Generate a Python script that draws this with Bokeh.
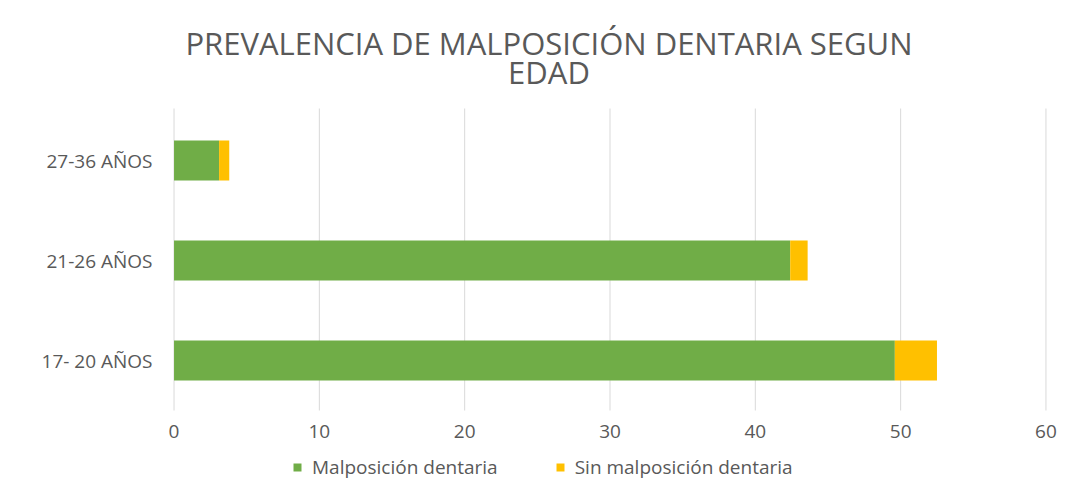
from bokeh.plotting import figure
from bokeh.models import (Range1d, FixedTicker, Legend, LegendItem,
                          ColumnDataSource, Label)
from bokeh.core.properties import value
from bokeh.embed import file_html
from bokeh.resources import INLINE

# ---- data ----
categories = ["17- 20 AÑOS", "21-26 AÑOS", "27-36 AÑOS"]
malposicion = [49.6, 42.4, 3.1]
sin_malposicion = [2.9, 1.2, 0.7]
x_ticks = [0, 10, 20, 30, 40, 50, 60]
series_names = ["Malposición dentaria", "Sin malposición dentaria"]
title_lines = ["PREVALENCIA DE MALPOSICIÓN DENTARIA SEGUN", "EDAD"]

GREEN = "#70AD47"
ORANGE = "#FFC000"
TEXT = "#595959"
GRID = "#D9D9D9"
FONT = "Open Sans"

idx = list(range(len(categories)))
src = ColumnDataSource(dict(y=idx, malpos=malposicion, sin=sin_malposicion))

# 100 px per category; frame spans the full canvas height
p = figure(width=1068, height=481,
           y_range=Range1d(-1.21, 3.60),
           x_range=Range1d(x_ticks[0] - 1, x_ticks[-1] + 1),
           output_backend="svg", toolbar_location=None,
           min_border_left=159, min_border_right=8,
           min_border_top=0, min_border_bottom=0,
           title=None)

p.outline_line_color = None
p.xgrid.visible = False
p.ygrid.visible = False
p.xaxis.visible = False

# vertical gridlines over the category band
grid_src = ColumnDataSource(dict(x=x_ticks,
                                 y0=[idx[0] - 0.5] * len(x_ticks),
                                 y1=[idx[-1] + 0.52] * len(x_ticks)))
p.segment(x0="x", y0="y0", x1="x", y1="y1", source=grid_src,
          line_color=GRID, line_width=1)

rs = p.hbar_stack(["malpos", "sin"], y="y", height=0.4, color=[GREEN, ORANGE],
                  line_color=None, source=src)

# x tick labels
tick_src = ColumnDataSource(dict(x=x_ticks, y=[idx[0] - 0.71] * len(x_ticks),
                                 t=[str(v) for v in x_ticks]))
p.text(x="x", y="y", text="t", source=tick_src, text_align="center",
       text_baseline="middle", text_color=TEXT, text_font=value(FONT),
       text_font_size="19px")

# y axis with category labels
p.yaxis.ticker = FixedTicker(ticks=idx)
p.yaxis.major_label_overrides = {i: c for i, c in zip(idx, categories)}
p.yaxis.axis_line_color = None
p.yaxis.major_tick_line_color = None
p.yaxis.minor_tick_line_color = None
p.yaxis.major_label_text_color = TEXT
p.yaxis.major_label_text_font = FONT
p.yaxis.major_label_text_font_size = "19px"
p.yaxis.major_label_standoff = 1

# title (two centred lines)
for line, yy in zip(title_lines, [idx[-1] + 1.18, idx[-1] + 0.89]):
    p.add_layout(Label(x=25.8, y=yy, text=line, text_align="center",
                       text_baseline="middle", text_font=FONT,
                       text_font_size="31px", text_color=TEXT))

legend = Legend(items=[LegendItem(label=series_names[0], renderers=[rs[0]]),
                       LegendItem(label=series_names[1], renderers=[rs[1]])],
                orientation="horizontal", location=(133, 1),
                padding=0, margin=0, spacing=57,
                glyph_width=10, glyph_height=10, label_standoff=10,
                label_text_font=FONT, label_text_font_size="19px",
                label_text_color=TEXT, border_line_color=None,
                background_fill_alpha=0)
p.add_layout(legend)

open("out.html", "w").write(file_html(p, INLINE))
